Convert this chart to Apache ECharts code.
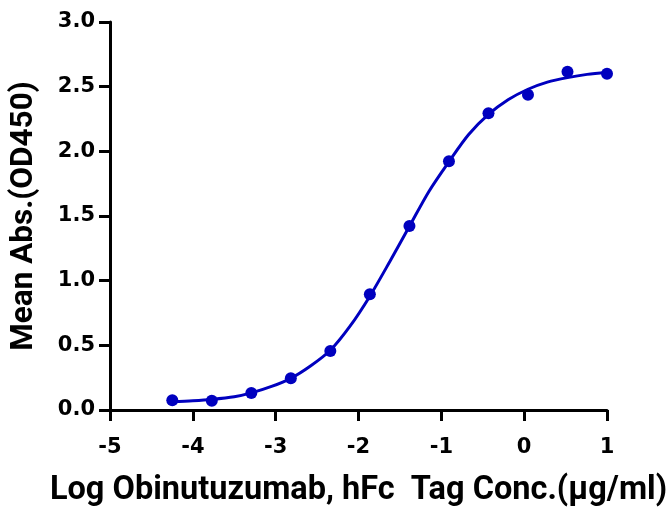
<!DOCTYPE html>
<html>
<head>
<meta charset="utf-8">
<script src="https://cdn.jsdelivr.net/npm/echarts@6/dist/echarts.min.js"></script>
<style>
html,body{margin:0;padding:0;background:#fff;}
#chart{width:671px;height:512px;}
</style>
</head>
<body>
<div id="chart"></div>
<script>
// Measured points (log concentration, mean absorbance)
const logConc = [-4.248, -3.771, -3.294, -2.817, -2.340, -1.863, -1.385, -0.908, -0.431, 0.046, 0.523, 1.0];
const meanAbs = [0.075, 0.072, 0.131, 0.246, 0.456, 0.895, 1.423, 1.923, 2.295, 2.438, 2.615, 2.600];

// Fitted curve
const curveX = [-4.248, -4.0, -3.771, -3.5, -3.294, -3.05, -2.817, -2.58, -2.340, -2.1, -1.863, -1.62, -1.385, -1.15, -0.908, -0.67, -0.431, -0.19, 0.046, 0.28, 0.523, 0.76, 1.0];
const curveY = [0.065, 0.072, 0.082, 0.102, 0.132, 0.182, 0.245, 0.34, 0.462, 0.65, 0.88, 1.15, 1.42, 1.69, 1.92, 2.13, 2.285, 2.40, 2.48, 2.535, 2.57, 2.595, 2.61];

const xTicks = [-5, -4, -3, -2, -1, 0, 1];
const yTicks = [0, 0.5, 1.0, 1.5, 2.0, 2.5, 3.0];

const xTitle = 'Log Obinutuzumab, hFc  Tag Conc.(μg/ml)';
const yTitle = 'Mean Abs.(OD450)';

const color = '#0000bf';
const titleFont = 'Roboto, "Noto Sans", sans-serif';
const tickFont = '"DejaVu Sans", Verdana, sans-serif';

const chart = echarts.init(document.getElementById('chart'));
chart.setOption({
  animation: false,
  backgroundColor: '#fff',
  grid: {left: 110, right: 64, top: 22, bottom: 100, containLabel: false},
  xAxis: {
    type: 'value',
    min: xTicks[0], max: xTicks[xTicks.length - 1], interval: 1,
    splitLine: {show: false},
    axisLine: {show: true, onZero: false, lineStyle: {color: '#000', width: 3}},
    axisTick: {show: true, length: 11, lineStyle: {color: '#000', width: 3}},
    axisLabel: {color: '#000', fontFamily: tickFont, fontWeight: 'bold', fontSize: 21, margin: 27,
      formatter: v => String(v)},
    name: xTitle, nameLocation: 'middle', nameGap: 64,
    nameTextStyle: {color: '#000', fontFamily: titleFont, fontWeight: 'bold', fontSize: 32.5}
  },
  yAxis: {
    type: 'value',
    min: yTicks[0], max: yTicks[yTicks.length - 1], interval: 0.5,
    splitLine: {show: false},
    axisLine: {show: true, onZero: false, lineStyle: {color: '#000', width: 3}},
    axisTick: {show: true, length: 11, lineStyle: {color: '#000', width: 3}},
    axisLabel: {color: '#000', fontFamily: tickFont, fontWeight: 'bold', fontSize: 21, margin: 15,
      formatter: v => v.toFixed(1)},
    name: yTitle, nameLocation: 'middle', nameGap: 70,
    nameTextStyle: {color: '#000', fontFamily: titleFont, fontWeight: 'bold', fontSize: 31.5}
  },
  series: [
    {
      type: 'line',
      data: curveX.map((x, i) => [x, curveY[i]]),
      smooth: 0.3,
      showSymbol: false,
      lineStyle: {color: color, width: 3},
      z: 2
    },
    {
      type: 'scatter',
      data: logConc.map((x, i) => [x, meanAbs[i]]),
      symbol: 'circle',
      symbolSize: 12,
      itemStyle: {color: color, opacity: 1},
      z: 3
    }
  ]
});
</script>
</body>
</html>
